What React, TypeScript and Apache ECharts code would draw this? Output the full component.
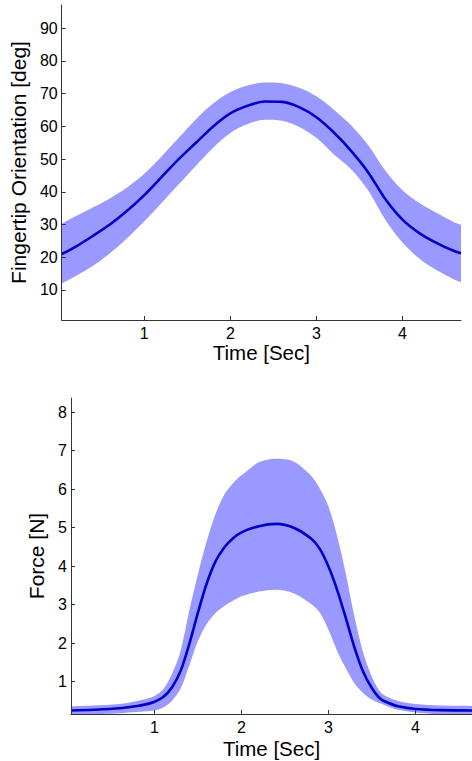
import React, { useEffect, useRef } from "react";
import * as echarts from "echarts";

// ---- Top panel: fingertip orientation ----
const orientTime = [0.04, 0.2, 0.4, 0.6, 0.8, 1.0, 1.2, 1.4, 1.6, 1.8, 2.0, 2.2, 2.4, 2.6, 2.8, 3.0, 3.2, 3.4, 3.6, 3.8, 4.0, 4.2, 4.4, 4.6, 4.68];
const orientMean = [21, 23.2, 26.5, 30, 34.2, 39, 44.5, 50, 55, 60, 64, 66.3, 67.6, 67.5, 65.9, 62.8, 58.2, 52.6, 46, 37.8, 31.5, 27.3, 24.3, 21.9, 21.2];
const orientUpper = [30.2, 32.5, 35.2, 38, 41.3, 45.5, 50.8, 56.5, 62.2, 67, 70.5, 72.5, 73.4, 73.2, 71.8, 69.2, 65.2, 60.4, 54.3, 46.5, 40.5, 36.5, 33.5, 30.7, 29.9];
const orientLower = [12, 14.2, 17.3, 21.2, 25.8, 31, 36.6, 42.3, 48, 53.5, 58, 60.7, 62, 61.7, 59.8, 56.5, 51.5, 47, 40.5, 31.5, 24.5, 19.5, 16, 13.2, 12.4];
const orientTicks = [10, 20, 30, 40, 50, 60, 70, 80, 90];

// ---- Bottom panel: force ----
const forceTime = [0.04, 0.3, 0.6, 0.8, 0.9, 1.0, 1.1, 1.2, 1.3, 1.4, 1.5, 1.6, 1.7, 1.8, 1.9, 2.0, 2.2, 2.4, 2.6, 2.8, 2.9, 3.0, 3.1, 3.2, 3.3, 3.4, 3.5, 3.6, 3.7, 3.8, 4.0, 4.3, 4.68];
const forceMean = [0.25, 0.27, 0.31, 0.37, 0.41, 0.48, 0.6, 0.85, 1.28, 1.98, 2.8, 3.55, 4.12, 4.48, 4.72, 4.88, 5.04, 5.1, 5.0, 4.72, 4.45, 3.99, 3.38, 2.65, 1.88, 1.25, 0.83, 0.55, 0.44, 0.36, 0.29, 0.26, 0.25];
const forceUpper = [0.36, 0.38, 0.42, 0.5, 0.55, 0.63, 0.8, 1.2, 1.8, 2.85, 3.8, 4.65, 5.35, 5.85, 6.15, 6.36, 6.7, 6.79, 6.72, 6.35, 6.02, 5.55, 4.78, 3.8, 2.68, 1.75, 1.12, 0.72, 0.58, 0.5, 0.42, 0.38, 0.37];
const forceLower = [0.13, 0.15, 0.18, 0.21, 0.23, 0.25, 0.33, 0.5, 0.82, 1.42, 2.06, 2.5, 2.78, 2.96, 3.1, 3.22, 3.34, 3.39, 3.3, 3.02, 2.8, 2.35, 1.8, 1.35, 0.95, 0.7, 0.53, 0.43, 0.34, 0.27, 0.2, 0.15, 0.12];
const forceTicks = [1, 2, 3, 4, 5, 6, 7, 8];

const timeTicks = [1, 2, 3, 4];

const BAND = "#9999ff";
const LINE = "#0000c8";
const FONT = "Liberation Sans";

function pairs(t: number[], v: number[]) {
  return t.map((x, i) => [x, v[i]]);
}

function bandSeries(idx: number, t: number[], lo: number[], hi: number[], mean: number[]) {
  return [
    {
      type: "line",
      xAxisIndex: idx,
      yAxisIndex: idx,
      data: pairs(t, hi),
      symbol: "none",
      smooth: 0.3,
      lineStyle: { width: 0, opacity: 0 },
      areaStyle: { color: BAND, opacity: 1, origin: "start" },
      silent: true,
      z: 1,
    },
    {
      type: "line",
      xAxisIndex: idx,
      yAxisIndex: idx,
      data: pairs(t, lo),
      symbol: "none",
      smooth: 0.3,
      lineStyle: { width: 0, opacity: 0 },
      areaStyle: { color: "#ffffff", opacity: 1, origin: "start" },
      silent: true,
      z: 2,
    },
    {
      type: "line",
      xAxisIndex: idx,
      yAxisIndex: idx,
      data: pairs(t, mean),
      symbol: "none",
      smooth: 0.3,
      lineStyle: { color: LINE, width: 2.6 },
      z: 5,
    },
  ];
}

function xAxis(idx: number, max: number, gap: number) {
  return {
    type: "value",
    gridIndex: idx,
    min: 0.04,
    max,
    name: "Time [Sec]",
    nameLocation: "middle",
    nameGap: gap,
    nameTextStyle: { fontSize: 20.5, color: "#000", fontFamily: FONT, verticalAlign: "middle" },
    axisLine: { show: true, lineStyle: { color: "#333", width: 1 } },
    axisTick: { show: true, inside: true, length: 4, customValues: timeTicks, lineStyle: { color: "#333" } },
    axisLabel: { customValues: timeTicks, fontSize: 16, color: "#000", fontFamily: FONT, margin: 5 },
    splitLine: { show: false },
    z: 10,
  };
}

function yAxis(idx: number, min: number, max: number, ticks: number[], name: string, gap: number) {
  return {
    type: "value",
    gridIndex: idx,
    min,
    max,
    name,
    nameLocation: "middle",
    nameGap: gap,
    nameTextStyle: { fontSize: 21, color: "#000", fontFamily: FONT, verticalAlign: "middle" },
    axisLine: { show: true, lineStyle: { color: "#333", width: 1 } },
    axisTick: { show: true, inside: true, length: 4, customValues: ticks, lineStyle: { color: "#333" } },
    axisLabel: { customValues: ticks, fontSize: 16, color: "#000", fontFamily: FONT, margin: 4 },
    splitLine: { show: false },
    z: 10,
  };
}

export default function App() {
  const ref = useRef<HTMLDivElement>(null);
  useEffect(() => {
    document.body.style.margin = "0";
    if (!ref.current) return;
    const chart = echarts.init(ref.current, null, { renderer: "svg" });
    chart.setOption({
      animation: false,
      backgroundColor: "#fff",
      grid: [
        { left: 58, top: 5, width: 403, height: 315 },
        { left: 71, top: 398, width: 401, height: 316 },
      ],
      xAxis: [xAxis(0, 4.68, 31), xAxis(1, 4.65, 34)],
      yAxis: [
        yAxis(0, 0.83, 97.1, orientTicks, "Fingertip Orientation [deg]", 38),
        yAxis(1, 0.16, 8.37, forceTicks, "Force [N]", 29),
      ],
      series: [
        ...bandSeries(0, orientTime, orientLower, orientUpper, orientMean),
        ...bandSeries(1, forceTime, forceLower, forceUpper, forceMean),
      ],
    });
    return () => chart.dispose();
  }, []);
  return <div ref={ref} style={{ width: 472, height: 761 }} />;
}
